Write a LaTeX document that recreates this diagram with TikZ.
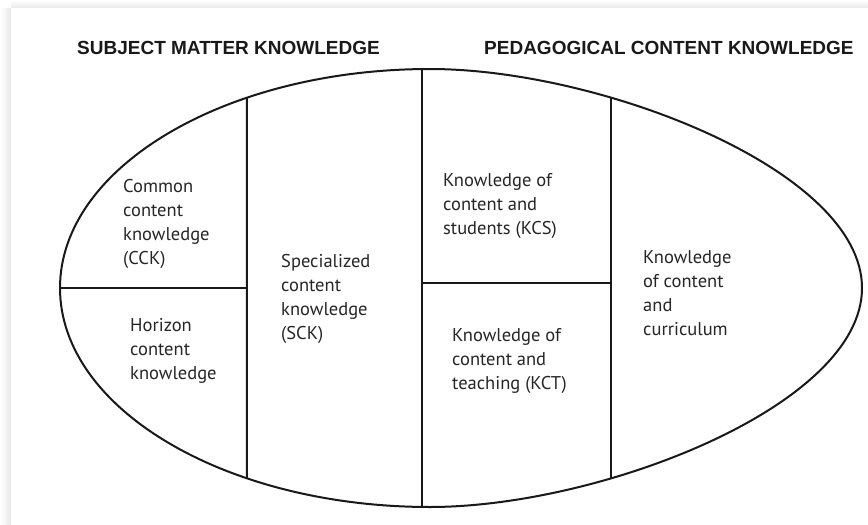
\documentclass[tikz,border=0pt]{standalone}
\usepackage{fontspec}
\setmainfont{PT Sans}
\newfontfamily\headfont{Liberation Sans}
\usetikzlibrary{intersections}
\begin{document}
\begin{tikzpicture}[x=1pt,y=-1pt,
  frameline/.style={line width=2pt,black!90},
  thickline/.style={line width=2.8pt,black!90},
  label/.style={anchor=base west,align=left,inner sep=0pt,font=\fontsize{18.5}{24}\selectfont,text=black!85},
  head/.style={anchor=base west,inner sep=0pt,font=\headfont\bfseries\fontsize{19}{22}\selectfont,text=black!90}]
\useasboundingbox (0,0) rectangle (868,525);
% card and shadow
\fill[white] (0,0) rectangle (868,525);
\shade[left color=white,right color=black!9] (0,8) rectangle (11,525);
\shade[top color=white,bottom color=black!9] (11,0) rectangle (868,8);
\fill[white] (11,8) rectangle (868,525);
% headers
\node[head] (smk) at (77,54) {SUBJECT MATTER KNOWLEDGE};
\node[head] (pck) at (484,54) {PEDAGOGICAL CONTENT KNOWLEDGE};
% oval
\draw[frameline,name path=oval] (60,288)
  .. controls (60,167) and (226,69) .. (430,69)
  .. controls (600,69) and (862,170) .. (862,288)
  .. controls (862,406) and (600,507) .. (430,507)
  .. controls (226,507) and (60,409) .. (60,288) -- cycle;
% dividers
\path[name path=va] (247,40) -- (247,520);
\path[name path=vb] (422,40) -- (422,520);
\path[name path=vc] (611,40) -- (611,520);
\path[name intersections={of=oval and va,sort by=va}]
  coordinate (a1) at (intersection-1) coordinate (a2) at (intersection-2);
\path[name intersections={of=oval and vb,sort by=vb}]
  coordinate (b1) at (intersection-1) coordinate (b2) at (intersection-2);
\path[name intersections={of=oval and vc,sort by=vc}]
  coordinate (c1) at (intersection-1) coordinate (c2) at (intersection-2);
\coordinate (h1) at (60,288); \coordinate (h2) at (247,288);
\coordinate (k1) at (422,283); \coordinate (k2) at (611,283);
\draw[frameline] (a1) -- (a2);
\draw[frameline] (b1) -- (b2);
\draw[frameline] (c1) -- (c2);
\draw[thickline] (h1) -- (h2);
\draw[frameline] (k1) -- (k2);
% texts (anchored at the baseline of the last line)
\node[label] (cck) at (123,264) {Common\\content\\knowledge\\(CCK)};
\node[label] (hck) at (130,379) {Horizon\\content\\knowledge};
\node[label] (sck) at (281,339) {Specialized\\content\\knowledge\\(SCK)};
\node[label] (kcs) at (443,234) {Knowledge of\\content and\\students (KCS)};
\node[label] (kct) at (452,389) {Knowledge of\\content and\\teaching (KCT)};
\node[label] (kcc) at (643,335) {Knowledge\\of content\\and\\curriculum};
\end{tikzpicture}
\end{document}
